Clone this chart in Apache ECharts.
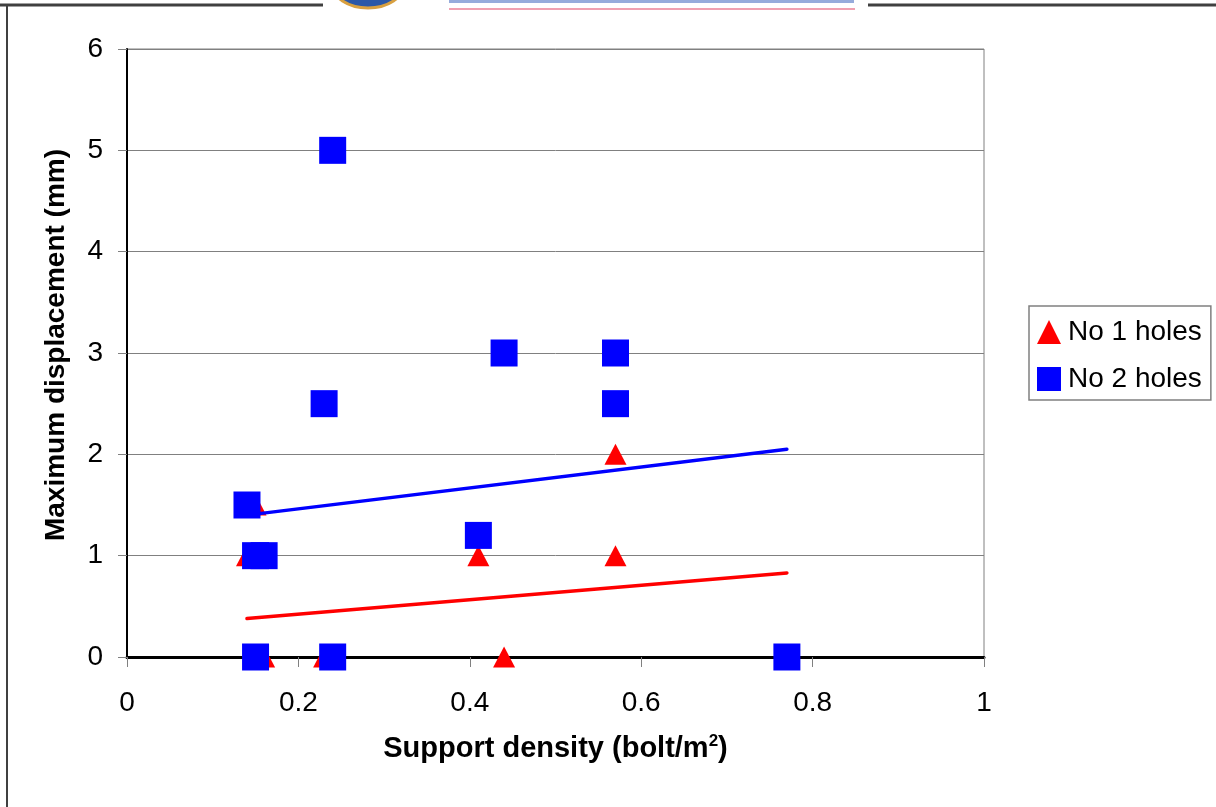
<!DOCTYPE html>
<html>
<head>
<meta charset="utf-8">
<script src="https://cdn.jsdelivr.net/npm/echarts@6/dist/echarts.min.js"></script>
<style>
html,body{margin:0;padding:0;background:#fff;}
#chart{width:1216px;height:807px;}
</style>
</head>
<body>
<div id="chart"></div>
<script>
// ---- data ----
const hole1X = [0.14, 0.15, 0.16, 0.23, 0.41, 0.44, 0.57, 0.57, 0.77];
const hole1Y = [1.0, 1.5, 0.0, 0.0, 1.0, 0.0, 2.0, 1.0, 0.0];
const hole2X = [0.14, 0.15, 0.16, 0.15, 0.24, 0.24, 0.23, 0.41, 0.44, 0.57, 0.57, 0.77];
const hole2Y = [1.5, 1.0, 1.0, 0.0, 0.0, 5.0, 2.5, 1.2, 3.0, 3.0, 2.5, 0.0];
const trend1X = [0.14, 0.77];
const trend1Y = [0.38, 0.83];
const trend2X = [0.14, 0.77];
const trend2Y = [1.40, 2.05];
const xTicks = [0, 0.2, 0.4, 0.6, 0.8, 1];
const yTicks = [0, 1, 2, 3, 4, 5, 6];
const seriesNames = ['No 1 holes', 'No 2 holes'];

const zip = (xs, ys) => xs.map((x, i) => [x, ys[i]]);
const FONT = '"Liberation Sans", Arial, sans-serif';

const chart = echarts.init(document.getElementById('chart'), null, {renderer: 'canvas'});
chart.setOption({
  backgroundColor: '#ffffff',
  animation: false,
  textStyle: {fontFamily: FONT},
  grid: {left: 127, top: 49, right: 232, bottom: 150, show: true, borderColor: '#808080', borderWidth: 1, backgroundColor: 'transparent'},
  xAxis: {
    type: 'value', min: xTicks[0], max: xTicks[xTicks.length - 1], interval: 0.2,
    name: '{a|Support density (bolt/m}{sup|2}{a|)}',
    nameLocation: 'middle', nameGap: 76,
    nameTextStyle: {
      rich: {
        a: {fontFamily: FONT, fontSize: 29, fontWeight: 'bold', color: '#000', lineHeight: 32},
        sup: {fontFamily: FONT, fontSize: 17, fontWeight: 'bold', color: '#000', lineHeight: 18, verticalAlign: 'top'}
      }
    },
    axisLine: {show: true, onZero: false, lineStyle: {color: '#000', width: 3}},
    axisTick: {show: true, inside: false, length: 10, lineStyle: {color: '#808080', width: 1}},
    axisLabel: {fontFamily: FONT, fontSize: 28, color: '#000', margin: 32, formatter: v => String(v)},
    splitLine: {show: false}
  },
  yAxis: {
    type: 'value', min: yTicks[0], max: yTicks[yTicks.length - 1], interval: 1,
    name: 'Maximum displacement (mm)',
    nameLocation: 'middle', nameGap: 57, nameRotate: 90,
    nameTextStyle: {fontFamily: FONT, fontSize: 28, fontWeight: 'bold', color: '#000', padding: [0, 0, 0, 16]},
    axisLine: {show: true, lineStyle: {color: '#000', width: 2}},
    axisTick: {show: true, inside: false, length: 9, lineStyle: {color: '#808080', width: 1}},
    axisLabel: {fontFamily: FONT, fontSize: 28, color: '#000', margin: 24},
    splitLine: {show: true, lineStyle: {color: '#808080', width: 1}}
  },
  legend: {
    data: [
      {name: seriesNames[0], icon: 'triangle'},
      {name: seriesNames[1], icon: 'rect'}
    ],
    orient: 'vertical', left: 1029, top: 306,
    itemWidth: 24, itemHeight: 24, itemGap: 19,
    padding: [12, 9, 7, 8],
    borderColor: '#808080', borderWidth: 1.5,
    textStyle: {fontFamily: FONT, fontSize: 28, color: '#000', padding: [0, 0, 0, 2]}
  },
  series: [
    {
      name: seriesNames[0], type: 'scatter', symbol: 'triangle', symbolSize: [22, 21],
      itemStyle: {color: '#ff0000', opacity: 1}, data: zip(hole1X, hole1Y), z: 2
    },
    {
      name: 'trend1', type: 'line', symbol: 'none', silent: true,
      lineStyle: {color: '#ff0000', width: 3.5, cap: 'round'}, data: zip(trend1X, trend1Y), z: 3
    },
    {
      name: 'trend2', type: 'line', symbol: 'none', silent: true,
      lineStyle: {color: '#0000ff', width: 3.5, cap: 'round'}, data: zip(trend2X, trend2Y), z: 3
    },
    {
      name: seriesNames[1], type: 'scatter', symbol: 'rect', symbolSize: 27,
      itemStyle: {color: '#0000ff', opacity: 1}, data: zip(hole2X, hole2Y), z: 4
    }
  ],
  graphic: [
    // page frame (top and left border of the slide)
    {type: 'line', shape: {x1: 0, y1: 5, x2: 323, y2: 5}, style: {stroke: '#404040', lineWidth: 3}, silent: true},
    {type: 'line', shape: {x1: 868, y1: 5, x2: 1216, y2: 5}, style: {stroke: '#404040', lineWidth: 3}, silent: true},
    {type: 'line', shape: {x1: 7, y1: 5, x2: 7, y2: 807}, style: {stroke: '#404040', lineWidth: 2}, silent: true},
    // cropped logo at top
    {type: 'ellipse', shape: {cx: 368, cy: -16, rx: 36, ry: 24}, style: {fill: '#2a58a8', stroke: '#d8a040', lineWidth: 3}, silent: true},
    {type: 'rect', shape: {x: 449, y: 0, width: 405, height: 3}, style: {fill: '#6a88cc', opacity: 0.7}, silent: true},
    {type: 'rect', shape: {x: 449, y: 8, width: 406, height: 2}, style: {fill: '#f0a0b0'}, silent: true}
  ]
});
</script>
</body>
</html>
